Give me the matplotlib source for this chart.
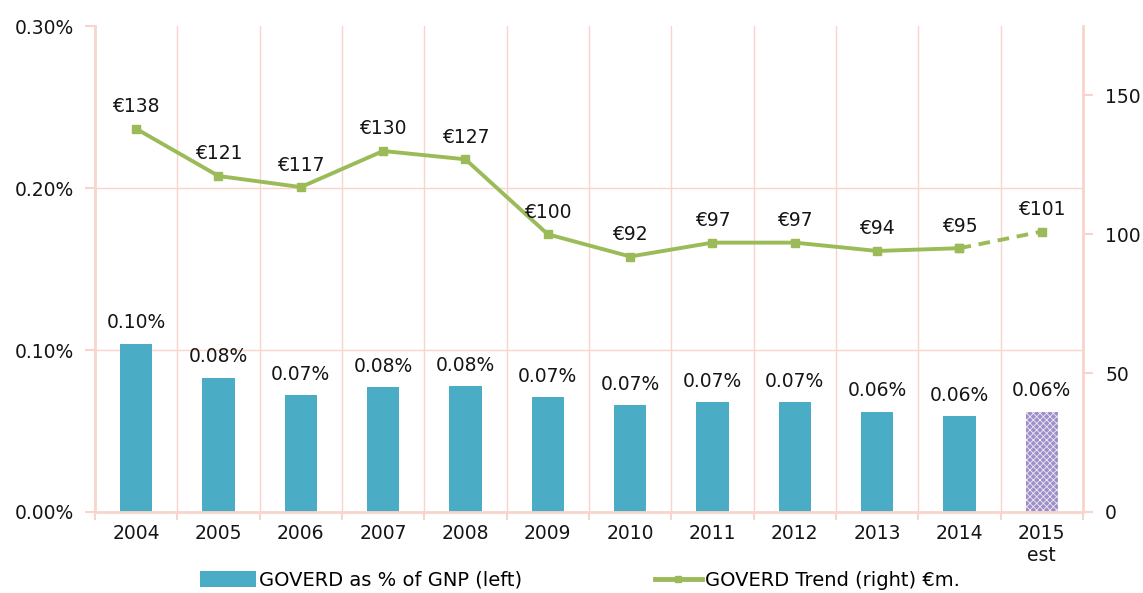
import matplotlib
matplotlib.use("Agg")
import matplotlib.pyplot as plt
import numpy as np
from matplotlib.patches import Patch
from matplotlib.lines import Line2D

years = ["2004", "2005", "2006", "2007", "2008", "2009", "2010", "2011", "2012", "2013", "2014", "2015\nest"]
pct_gnp = [0.104, 0.083, 0.072, 0.077, 0.078, 0.071, 0.066, 0.068, 0.068, 0.062, 0.059, 0.062]
pct_labels = ["0.10%", "0.08%", "0.07%", "0.08%", "0.08%", "0.07%", "0.07%", "0.07%", "0.07%", "0.06%", "0.06%", "0.06%"]
trend = [138, 121, 117, 130, 127, 100, 92, 97, 97, 94, 95, 101]

plt.rcParams['font.family'] = ['DejaVu Sans']
plt.rcParams['hatch.linewidth'] = 0.6
FS = 13.5
bar_color = "#4BACC6"
est_color = "#9F8FC8"
line_color = "#9BBB59"
grid_color = "#F8D5CC"
text_color = "#151515"

fig = plt.figure(figsize=(11.43, 5.93), dpi=100)
ax = fig.add_axes([0.0831, 0.1366, 0.8644, 0.8195])
ax2 = ax.twinx()

x = np.arange(len(years))
colors = [bar_color] * (len(years) - 1) + [est_color]
bars = ax.bar(x, pct_gnp, width=0.39, color=colors, zorder=2, linewidth=0)
bars[-1].set_hatch("xxxxx")
bars[-1].set_edgecolor("#EEEAF5")

for xi, v, lab in zip(x, pct_gnp, pct_labels):
    ax.annotate(lab, (xi, v), xytext=(0, 8), textcoords="offset points",
                ha="center", va="bottom", fontsize=FS, color=text_color)

ax.set_xlim(-0.5, len(years) - 0.5)
ax.set_ylim(0, 0.3)
ax.set_yticks([0, 0.1, 0.2, 0.3])
ax.set_yticklabels(["0.00%", "0.10%", "0.20%", "0.30%"])
ax.set_xticks(x)
ax.set_xticklabels(years)
ax.set_xticks(np.arange(-0.5, len(years), 1.0), minor=True)
for b in np.arange(-0.5, len(years), 1.0):
    ax.axvline(b, color=grid_color, lw=1, zorder=0)
for yv in [0.1, 0.2]:
    ax.axhline(yv, color=grid_color, lw=1, zorder=0)

ax.tick_params(axis="y", colors=grid_color, labelcolor=text_color, labelsize=FS, length=7, width=1.5, pad=8)
ax.tick_params(axis="x", which="major", length=0, pad=9, labelsize=FS, labelcolor=text_color)
ax.tick_params(axis="x", which="minor", length=6, color=grid_color, width=1.5)
ax.spines["top"].set_visible(False)
ax2.spines["top"].set_visible(False)
for sp in ["left", "bottom", "right"]:
    ax.spines[sp].set_color(grid_color)
    ax2.spines[sp].set_color(grid_color)
ax.spines["left"].set_linewidth(2)
ax.spines["bottom"].set_linewidth(2)
ax2.spines["right"].set_linewidth(2)
ax2.spines["left"].set_visible(False)
ax2.spines["bottom"].set_visible(False)

ax2.plot(x[:-1], trend[:-1], color=line_color, lw=2.8, marker="s", ms=5.5, zorder=3)
ax2.plot(x[-2:], trend[-2:], color=line_color, lw=2.8, ls=(0, (3, 2)), marker="s", ms=5.5, zorder=3)
for xi, v in zip(x, trend):
    ax2.annotate(f"€{v}", (xi, v), xytext=(0, 9), textcoords="offset points",
                 ha="center", va="bottom", fontsize=FS, color=text_color)
ax2.set_ylim(0, 175)
ax2.set_yticks([0, 50, 100, 150])
ax2.tick_params(axis="y", colors=grid_color, labelcolor=text_color, labelsize=FS, length=7, width=1.5, pad=9)

h1 = [Patch(facecolor=bar_color, label="GOVERD as % of GNP (left)")]
h2 = [Line2D([0], [0], color=line_color, lw=3.5, marker="s", ms=5, label="GOVERD Trend (right) €m.")]
fig.legend(handles=h1, loc="center left", bbox_to_anchor=(200 / 1143, 13 / 593),
           frameon=False, fontsize=14, handlelength=2.9, handleheight=0.9, handletextpad=0.15,
           borderpad=0, borderaxespad=0)
fig.legend(handles=h2, loc="center left", bbox_to_anchor=(655 / 1143, 13 / 593),
           frameon=False, fontsize=14, handlelength=2.4, handletextpad=0.15,
           borderpad=0, borderaxespad=0)

fig.savefig("out.png", dpi=100)
